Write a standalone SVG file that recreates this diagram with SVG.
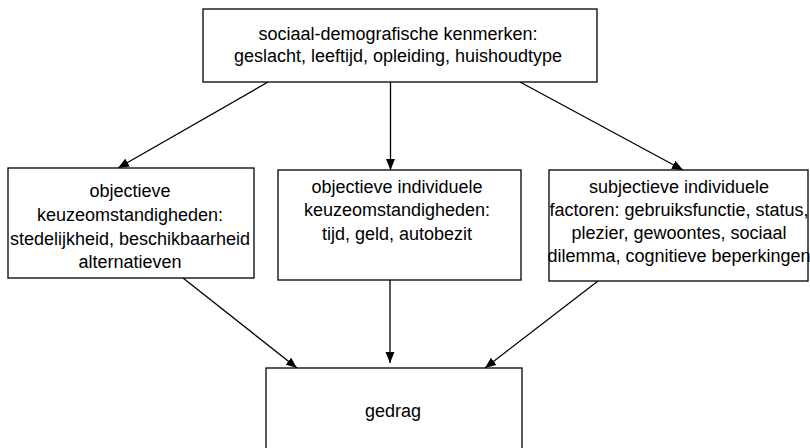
<svg xmlns="http://www.w3.org/2000/svg" width="810" height="448" viewBox="0 0 810 448">
<style>
.box{fill:#fff;stroke:#000;stroke-width:1.3}
.t{font-family:"Liberation Sans",Arial,sans-serif;font-size:18px;fill:#000;text-anchor:middle}
.c{stroke:#000;stroke-width:1.3;fill:none;marker-end:url(#ah)}
</style>
<defs>
<marker id="ah" markerUnits="userSpaceOnUse" markerWidth="12" markerHeight="10" refX="11" refY="5" orient="auto" viewBox="0 0 12 10">
<path d="M0,0.5 L11,5 L0,9.5 Z" fill="#000"/>
</marker>
</defs>
<rect width="810" height="448" fill="#fff"/>
<g id="connectors">
<line class="c" x1="268" y1="82" x2="118" y2="168"/>
<line class="c" x1="390.5" y1="82" x2="390.5" y2="170"/>
<line class="c" x1="520" y1="82" x2="683" y2="170"/>
<line class="c" x1="183" y1="278" x2="297" y2="368"/>
<line class="c" x1="390" y1="280" x2="390" y2="363"/>
<line class="c" x1="598" y1="281" x2="485" y2="368"/>
</g>
<g id="top">
<rect class="box" x="203" y="9" width="394" height="73"/>
<text class="t" x="398" y="40">sociaal-demografische kenmerken:</text>
<text class="t" x="398" y="62">geslacht, leeftijd, opleiding, huishoudtype</text>
</g>
<g id="left">
<rect class="box" x="8" y="168" width="246" height="110"/>
<text class="t" x="130" y="197">objectieve</text>
<text class="t" x="130" y="221">keuzeomstandigheden:</text>
<text class="t" x="130" y="245">stedelijkheid, beschikbaarheid</text>
<text class="t" x="130" y="268">alternatieven</text>
</g>
<g id="middle">
<rect class="box" x="278" y="170" width="243" height="110"/>
<text class="t" x="397" y="193">objectieve individuele</text>
<text class="t" x="397" y="216">keuzeomstandigheden:</text>
<text class="t" x="397" y="240">tijd, geld, autobezit</text>
</g>
<g id="right">
<rect class="box" x="549" y="170" width="259" height="111"/>
<text class="t" x="679" y="193">subjectieve individuele</text>
<text class="t" x="679" y="216">factoren: gebruiksfunctie, status,</text>
<text class="t" x="679" y="239">plezier, gewoontes, sociaal</text>
<text class="t" x="679" y="262">dilemma, cognitieve beperkingen</text>
</g>
<g id="bottom">
<rect class="box" x="266" y="368" width="256" height="95"/>
<text class="t" x="393" y="417">gedrag</text>
</g>
</svg>
